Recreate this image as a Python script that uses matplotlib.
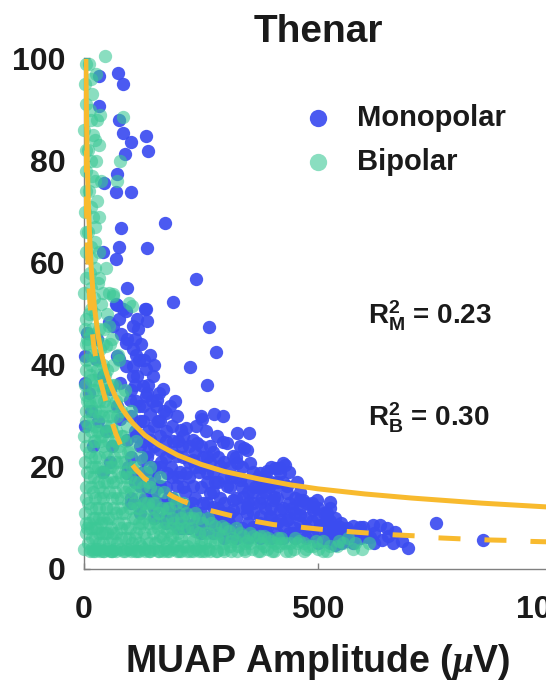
import matplotlib
matplotlib.use('Agg')
import matplotlib.pyplot as plt

plt.rcParams['font.family'] = ['Liberation Sans', 'DejaVu Sans']
plt.rcParams['font.weight'] = 'bold'
plt.rcParams['axes.labelweight'] = 'bold'
plt.rcParams['mathtext.fontset'] = 'custom'
plt.rcParams['mathtext.rm'] = 'Liberation Sans:bold'
plt.rcParams['mathtext.bf'] = 'Liberation Sans:bold'
plt.rcParams['mathtext.it'] = 'Liberation Serif:italic'

# ---------------- data ----------------
title = 'Thenar'
series_names = ['Monopolar', 'Bipolar']
x_ticks = [0, 500, 1000]
y_ticks = [0, 20, 40, 60, 80, 100]
r2_labels = ['0.23', '0.30']

mono_pts = [
    (31, 96.6), (73, 97.2), (83, 95), (31, 90.6), (75, 87.9), (83, 85.4), (100, 83.6), (132, 84.9),
    (136, 81.8), (88, 81.3), (70, 77.4), (43, 75.6), (68, 73.9), (100, 73.9), (173, 67.8), (78, 66.8),
    (74, 63.1), (134, 62.8), (41, 62), (68, 60.7), (239, 56.8), (92, 55), (191, 52.3), (70, 51.7), (132, 51),
    (268, 47.4), (282, 42.6), (227, 39.5), (263, 36.1), (278, 30.3), (250, 29.9), (135, 48.6), (252, 29.3),
    (233, 25.3), (207, 27.3),
    (68, 51.9), (90, 50.5), (104, 47.6), (115, 47), (75, 48.9), (54, 48.3), (79, 46), (90, 44.3), (104, 43),
    (118, 41), (132, 39.1), (147, 37.8), (161, 34.5), (125, 35.8), (104, 37.8), (90, 39.7), (75, 41.1),
    (132, 33.9), (154, 31.9), (175, 30.6), (140, 30.3), (118, 31.9), (26, 41.1), (11, 34.5), (113, 37.8),
    (134, 34.5), (155, 33.2), (169, 35.2), (198, 29.9), (219, 27.6), (241, 24.7), (269, 24), (233, 21.4),
    (198, 22.1), (162, 23.4), (141, 25.3), (127, 21.4), (177, 18.8), (219, 18.8), (262, 18.8), (291, 20.1),
    (319, 22.1), (333, 24), (305, 16.2), (269, 14.9), (233, 16.2), (198, 16.2), (162, 16.2), (348, 12.2),
    (319, 13.6), (276, 12.2), (376, 10.3), (404, 13.6), (419, 18.8), (376, 18.8), (433, 16.2), (461, 13.6),
    (490, 12.2), (519, 10.3), (547, 8.3), (575, 7), (533, 5), (390, 8.3), (419, 9.6), (447, 7), (333, 7),
    (291, 8.3), (248, 9.6), (219, 12.2), (191, 13.6), (148, 13.6), (120, 16.2), (91, 18.8), (91, 25.3),
    (77, 29.3), (70, 31.9), (56, 35.2), (41, 37.8), (77, 36.5), (98, 33.2), (105, 39.7), (70, 41.7),
    (91, 45), (63, 47.6), (113, 48.9), (130, 50.9), (84, 50.9), (27, 45), (6, 46.3), (3, 41.7), (2, 36.5),
    (2, 28),
    (298, 29.9), (326, 26.7), (305, 24.7), (348, 23.4), (326, 20.8), (355, 20.8), (390, 19.1), (426, 20.8),
    (408, 19.8), (372, 18.1), (333, 17.5), (383, 16.2), (433, 14.9), (405, 14.2), (340, 14.2), (362, 12.9),
    (419, 11.6), (319, 11.6), (469, 13.6), (497, 13.6), (526, 13.2), (462, 10.6), (490, 11.6), (519, 10.9),
    (504, 8.6), (533, 8.3), (561, 8), (590, 8.3), (618, 8.6), (526, 6.3), (554, 6), (604, 6.3), (536, 4.7),
    (397, 10.3), (433, 9.6), (348, 10.9), (362, 8.3),
    (597, 8.3), (633, 8.6), (647, 8), (665, 7.3), (636, 5.7), (661, 5), (611, 6.3), (692, 4.1), (753, 9),
    (852, 5.6), (430, 20.4), (416, 19.8), (353, 26.7), (297, 24.8), (342, 23.7),
    (95, 20), (110, 17), (130, 14), (150, 12), (170, 10), (190, 9), (210, 8), (120, 11), (100, 13),
    (160, 16), (140, 19), (180, 14),
    (15, 31), (30, 29), (48, 27), (60, 24), (40, 19), (55, 21), (20, 24),
    (210, 24), (225, 21), (245, 19), (255, 22), (280, 17), (290, 14), (300, 21), (315, 18), (260, 27),
    (240, 28), (285, 26), (270, 21),
    (110, 27), (120, 24), (135, 22), (150, 20), (165, 21), (185, 20), (175, 25), (190, 25), (205, 19),
    (215, 15), (230, 13), (200, 11), (185, 11), (255, 13), (240, 11), (265, 10), (300, 11), (310, 9),
    (285, 11), (350, 15), (365, 16), (380, 14), (395, 16), (410, 16), (445, 12), (455, 17), (475, 10),
    # dense band between the two fits
    (100, 14), (100, 22), (100, 30), (100, 35), (112, 18), (112, 26), (112, 33), (112, 42),
    (125, 13), (125, 19), (125, 25), (125, 29), (125, 32), (137, 16), (137, 23), (137, 27), (137, 36),
    (150, 10), (150, 15), (150, 18), (150, 24), (150, 28), (162, 13), (162, 20), (162, 26), (162, 29),
    (175, 9), (175, 12), (175, 16), (175, 22), (175, 27), (187, 14), (187, 18), (187, 23), (187, 28),
    (200, 8), (200, 13), (200, 18), (200, 25), (212, 10), (212, 16), (212, 22), (212, 26),
    (225, 8), (225, 12), (225, 18), (225, 24), (237, 9), (237, 14), (237, 20), (237, 23),
    (250, 7), (250, 11), (250, 16), (250, 20), (250, 24), (262, 9), (262, 13), (262, 17), (262, 22),
    (275, 7), (275, 10), (275, 15), (275, 19), (275, 23), (287, 9), (287, 12), (287, 17), (287, 22),
    (300, 6), (300, 9), (300, 13), (300, 18), (312, 8), (312, 11), (312, 16), (312, 20),
    (325, 6), (325, 10), (325, 14), (325, 18), (325, 22), (337, 8), (337, 12), (337, 16), (337, 20),
    (350, 6), (350, 9), (350, 13), (350, 17), (362, 7), (362, 11), (362, 15), (362, 19),
    (375, 6), (375, 9), (375, 13), (375, 16), (387, 8), (387, 12), (387, 15), (387, 18),
    (400, 6), (400, 10), (400, 12), (400, 17), (400, 20), (412, 7), (412, 9), (412, 14), (412, 17),
    (425, 6), (425, 8.5), (425, 12), (425, 17), (437, 7), (437, 10), (437, 13), (437, 19),
    (450, 6), (450, 8), (450, 11), (450, 14), (462, 7), (462, 9), (462, 12), (462, 15),
    (475, 6), (475, 8), (475, 13), (487, 7), (487, 9.5), (487, 13),
    (500, 5), (500, 7.5), (500, 10), (500, 12), (512, 6), (512, 8.5), (512, 11),
    (525, 5), (525, 7), (525, 9.5), (525, 12), (537, 6), (537, 8), (537, 10),
    (550, 5), (550, 7), (550, 9), (562, 5.5), (562, 7.5), (575, 5), (575, 8.5), (590, 6), (590, 7.5),
    (620, 5), (620, 7), (650, 6.5), (680, 5.5),
    # blue above the solid fit, x 100-200
    (108, 36), (120, 29), (128, 41), (145, 33), (158, 29), (170, 31), (183, 32), (195, 33),
    (110, 45), (122, 44), (140, 42), (150, 40),
]

bip_pts = [
    (3, 95), (1, 86), (4, 78), (2, 70), (5, 62), (1, 54), (3, 47), (5, 41), (2, 36), (4, 31), (1, 26),
    (3, 21), (5, 16), (2, 11), (4, 7), (1, 4),
    (10, 99), (12, 90), (9, 82), (11, 74), (8, 66), (12, 58), (10, 50), (9, 44), (12, 38), (10, 33),
    (8, 28), (11, 23), (13, 18), (9, 13), (11, 9), (8, 5), (12, 3.5),
    (18, 93), (20, 85), (17, 77), (19, 69), (16, 61), (21, 53), (18, 47), (16, 40), (20, 35), (18, 30),
    (21, 25), (17, 20), (19, 15), (20, 10), (17, 6), (19, 3.5),
    (26, 97), (28, 88), (25, 80), (27, 72), (24, 64), (29, 56), (26, 45), (28, 39), (25, 33), (27, 27),
    (24, 22), (29, 17), (26, 12), (27, 8), (25, 4),
    (34, 89), (36, 76), (33, 62), (37, 52), (35, 43), (33, 36), (36, 31), (35, 25), (37, 19), (34, 14),
    (36, 9), (33, 5), (35, 3.5),
    (45, 100.5), (47, 59), (43, 47), (45, 38), (42, 33), (46, 28), (44, 23), (42, 17), (46, 12), (44, 7),
    (43, 3.5),
    (53, 54), (55, 44), (52, 36), (54, 30), (51, 25), (55, 20), (53, 15), (52, 10), (54, 5), (55, 3.5),
    (63, 53.5), (61, 40), (63, 32), (60, 27), (64, 22), (62, 17), (61, 12), (63, 7), (60, 3.5),
    (70, 76), (73, 42), (71, 30), (74, 24), (72, 19), (70, 14), (73, 9), (71, 5),
    (84, 88.5), (77, 80), (81, 34), (83, 26), (80, 21), (84, 16), (82, 11), (80, 6), (83, 3.5),
    (91, 28), (93, 23), (90, 18), (94, 13), (92, 8), (91, 4),
    (102, 51.5), (101, 31), (103, 20), (100, 15), (104, 10), (102, 5), (101, 3.5),
    (112, 25), (110, 17), (114, 12), (111, 7), (113, 3.5),
    (122, 22), (120, 14), (124, 9), (121, 4.5),
    (132, 19), (131, 11), (133, 6), (130, 3.5),
    (142, 20), (141, 16), (143, 8), (140, 3.5),
    (152, 13), (153, 9), (151, 5),
    (162, 18), (161, 11), (163, 6.5), (160, 3.5),
    (172, 15), (171, 8), (173, 4),
    (182, 12), (183, 6), (181, 3.5),
    (192, 14), (191, 9), (193, 4.5),
    (202, 11), (201, 7), (203, 3.5),
    (212, 13), (213, 8), (211, 4.5),
    (225, 10), (224, 6), (226, 3.5),
    (238, 11), (237, 7.5), (239, 4),
    (252, 9), (251, 5.5), (253, 3.5),
    (265, 10), (266, 7), (264, 4),
    (280, 8.5), (279, 5), (281, 3.5),
    (295, 8.5), (294, 6.5), (296, 4),
    (310, 7.5), (311, 4.5),
    (325, 8), (324, 5.5), (326, 3.5),
    (340, 6.5), (341, 4),
    (355, 7), (354, 5),
    (370, 6), (371, 3.5),
    (385, 6.5), (384, 4.5),
    (400, 5.5), (401, 3.5),
    (415, 6), (414, 4.5),
    (430, 5), (431, 3.5),
    (450, 6), (449, 4),
    (470, 5), (471, 3.5),
    (490, 4.5), (510, 5.5), (511, 3.5), (540, 4.5), (565, 6), (595, 4),
    (6, 45), (14, 42), (7, 33), (15, 27), (6, 19), (14, 12), (7, 8), (22, 37), (23, 28), (22, 18),
    (23, 8), (30, 41), (31, 30), (30, 20), (31, 10), (40, 35), (39, 26), (40, 15), (39, 7), (48, 32),
    (49, 20), (48, 9), (58, 28), (57, 18), (58, 8), (67, 25), (66, 15), (67, 4), (77, 23), (76, 12),
    (87, 19), (86, 9), (97, 16), (96, 6), (107, 13), (117, 9), (127, 16), (137, 13), (147, 10),
    (157, 15), (167, 12), (177, 10), (187, 8), (197, 13), (207, 9), (218, 11), (231, 8), (245, 10),
    (258, 7), (272, 9), (287, 7), (302, 8), (317, 6), (333, 7), (348, 5.5), (362, 6.5), (378, 5),
    (393, 6), (408, 5), (422, 6), (440, 5), (460, 5.5), (480, 4.5), (500, 4), (525, 4.5), (553, 5),
    (580, 5), (610, 5),
    (61, 53.8), (97, 52.2), (54, 47.6), (75, 41), (66, 36), (88, 35), (48, 43.7),
    # extra layer, lower-left mass
    (4, 9), (4, 14), (4, 24), (4, 29), (4, 34), (4, 39), (4, 44), (4, 49), (4, 57), (4, 66), (4, 74),
    (4, 82), (4, 91), (4, 99),
    (15, 4), (15, 8), (15, 16), (15, 22), (15, 32), (15, 37), (15, 46), (15, 51), (15, 55), (15, 63),
    (15, 71), (15, 80), (15, 88), (15, 96),
    (24, 3.5), (24, 6), (24, 10), (24, 14), (24, 20), (24, 25), (24, 31), (24, 35), (24, 42), (24, 50),
    (24, 59), (24, 67), (24, 76), (24, 84),
    (32, 4), (32, 7), (32, 12), (32, 16), (32, 22), (32, 27), (32, 33), (32, 38), (32, 47), (32, 57),
    (32, 69), (32, 83),
    (41, 3.5), (41, 5), (41, 10), (41, 14), (41, 19), (41, 24), (41, 30), (41, 40), (41, 44), (41, 54),
    (50, 4), (50, 7), (50, 12), (50, 17), (50, 22), (50, 27), (50, 34), (50, 39), (50, 50),
    (59, 3.5), (59, 6), (59, 10), (59, 14), (59, 20), (59, 24), (59, 30), (59, 36), (59, 45),
    (68, 3.5), (68, 7), (68, 11), (68, 17), (68, 21), (68, 27), (68, 33),
    (78, 4), (78, 8), (78, 14), (78, 18), (78, 26), (78, 31),
    (88, 3.5), (88, 6), (88, 11), (88, 15), (88, 21), (88, 25),
    (98, 4), (98, 8), (98, 12), (98, 18), (98, 23),
    (108, 3.5), (108, 6), (108, 10), (108, 15), (108, 20),
    (118, 3.5), (118, 5), (118, 8), (118, 12), (118, 17),
    (128, 4), (128, 7), (128, 10), (128, 13),
    (138, 3.5), (138, 5), (138, 9), (138, 12), (138, 17),
    (148, 4), (148, 7), (148, 13),
    (158, 3.5), (158, 5.5), (158, 8), (158, 11),
    (168, 3.5), (168, 6), (168, 9),
    (178, 3.5), (178, 5), (178, 7.5), (178, 12),
    (188, 4), (188, 6.5), (188, 10),
    (198, 3.5), (198, 5), (198, 8),
    (208, 3.5), (208, 6), (208, 10),
    (220, 3.5), (220, 4.5), (220, 8),
    (232, 3.5), (232, 5.5), (232, 10),
    (245, 3.5), (245, 4.5), (245, 7),
    (258, 3.5), (258, 5), (270, 3.5), (270, 5.5), (285, 3.5), (285, 6), (300, 3.5), (300, 5),
    (315, 3.5), (315, 5.5), (330, 4.5), (345, 3.5), (345, 5), (360, 4), (375, 3.5), (375, 6.5),
    (390, 4), (405, 3.5), (420, 5), (440, 3.5), (455, 5), (475, 4), (495, 5.5), (520, 3.5),
    (545, 5.5), (575, 4),
]

# fitted curves
mono_fit_x = [3.9, 5, 6, 7, 8.5, 10, 12.5, 15, 19, 23, 30, 38, 46, 55, 67, 80, 92, 105, 130, 160,
              200, 250, 300, 376, 440, 500, 600, 700, 850, 1000]
mono_fit_y = [100, 91, 84.5, 79.5, 74.3, 69.7, 64.2, 59.6, 54.5, 50.8, 45.8, 41.9, 39.0, 36.4, 33.8,
              31.6, 30.0, 28.5, 26.2, 24.3, 22.3, 20.5, 19.1, 17.6, 16.5, 15.7, 14.7, 13.9, 12.9, 12.1]
bip_fit_x = [1.5, 2.2, 3, 4, 5, 6.5, 8, 10, 12, 14.5, 17, 21, 27, 33, 41, 50, 58, 68, 80, 93, 110,
             129, 150, 172, 190, 211, 237, 264, 303, 330, 362, 405, 462, 504, 583, 661, 707, 757,
             807, 860, 907, 957, 1000]
bip_fit_y = [100, 92, 85, 78, 72, 66, 61, 56.5, 53, 50, 47, 43.7, 40.4, 37.5, 34.8, 31.8, 29.3, 26.5,
             23.9, 21.6, 19.6, 17.8, 16.4, 15.2, 14.2, 13.3, 12.4, 11.6, 10.7, 10.1, 9.4, 8.7, 8.2,
             7.8, 7.2, 6.7, 6.5, 6.1, 5.9, 5.7, 5.6, 5.4, 5.3]

mono_x = [p[0] for p in mono_pts]
mono_y = [p[1] for p in mono_pts]
bip_x = [p[0] for p in bip_pts]
bip_y = [p[1] for p in bip_pts]

# ---------------- style ----------------
BLUE = '#3B4CF0'
GREEN = '#3CC896'
ORANGE = '#F8BA2E'
TXT = '#1a1a1a'
GREY = '#808080'

fig = plt.figure(figsize=(5.46, 6.86), dpi=100)
ax = fig.add_axes([84 / 546, 117 / 686, 468 / 546, 510.5 / 686])

s_blue = ax.scatter(mono_x, mono_y, s=92, color=BLUE, alpha=0.92, linewidths=0,
                    label=series_names[0], clip_on=False, zorder=2)
s_green = ax.scatter(bip_x, bip_y, s=92, color=GREEN, alpha=0.6, linewidths=0,
                     label=series_names[1], clip_on=False, zorder=3)

ax.plot(mono_fit_x, mono_fit_y, color=ORANGE, lw=3.6, solid_capstyle='butt',
        solid_joinstyle='round', zorder=4)
ax.plot(bip_fit_x, bip_fit_y, color=ORANGE, lw=3.6, dashes=(4.4, 4.8), zorder=4)

ax.set_xlim(0, 1000)
ax.set_ylim(0, 100)
ax.set_xticks(x_ticks)
ax.set_yticks(y_ticks)

for side in ['top', 'right']:
    ax.spines[side].set_visible(False)
for side in ['left', 'bottom']:
    ax.spines[side].set_color(GREY)
    ax.spines[side].set_linewidth(1.0)

ax.tick_params(direction='in', length=4, width=1, color=GREY, labelcolor=TXT, labelsize=23)
ax.tick_params(axis='x', pad=19)
ax.tick_params(axis='y', pad=13)

ax.set_title(title, fontsize=28, fontweight='bold', color=TXT, pad=12)
ax.set_xlabel(r'MUAP Amplitude ($\mu$V)', fontsize=27, fontweight='bold', color=TXT, labelpad=12)

ax.text(607, 47.9, r'$\mathbf{R}^{\mathbf{2}}_{\mathbf{M}}$ = ' + r2_labels[0], fontsize=20,
        color=TXT, ha='left', va='baseline')
ax.text(607, 27.9, r'$\mathbf{R}^{\mathbf{2}}_{\mathbf{B}}$ = ' + r2_labels[1], fontsize=20,
        color=TXT, ha='left', va='baseline')

leg = ax.legend(handles=[s_blue, s_green], loc='upper left', bbox_to_anchor=(303 / 546, 1 - 104 / 686),
                bbox_transform=fig.transFigure, frameon=False, borderpad=0, borderaxespad=0,
                handlelength=1.0, handletextpad=0.85, labelspacing=0.55, markerscale=1.3,
                prop={'weight': 'bold', 'size': 21})
for t in leg.get_texts():
    t.set_color(TXT)

fig.savefig('out.png', dpi=100)
